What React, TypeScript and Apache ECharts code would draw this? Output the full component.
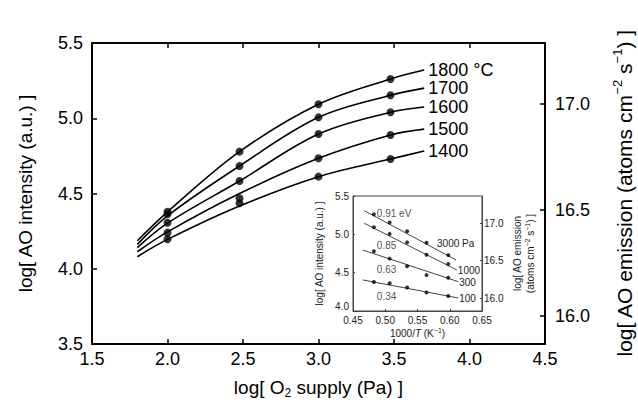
import React, { useEffect, useRef } from "react";
import * as echarts from "echarts";

// ---- data ----
const tempNames = ["1800 °C", "1700", "1600", "1500", "1400"];
const supplyLog = [2.0, 2.477, 3.0, 3.477]; // log of 100, 300, 1000, 3000 Pa
const dots1800 = [4.379, 4.778, 5.093, 5.261];
const dots1700 = [4.362, 4.683, 5.006, 5.153];
const dots1600 = [4.306, 4.583, 4.895, 5.04];
const dots1500 = [4.24, 4.468, 4.734, 4.889];
const dots1400 = [4.196, 4.435, 4.612, 4.729];

const curveX = [1.8, 2.0, 2.477, 3.0, 3.477, 3.7];
const curve1800 = [4.186, 4.378, 4.778, 5.093, 5.261, 5.32];
const curve1700 = [4.162, 4.352, 4.683, 5.006, 5.153, 5.2];
const curve1600 = [4.14, 4.303, 4.583, 4.895, 5.04, 5.075];
const curve1500 = [4.113, 4.245, 4.5, 4.734, 4.889, 4.928];
const curve1400 = [4.08, 4.195, 4.417, 4.612, 4.729, 4.782];

// inset: 1000/T (K^-1) for 1800..1400 °C
const invT = [0.4824, 0.5068, 0.5339, 0.564, 0.5977];
const pressureNames = ["3000 Pa", "1000", "300", "100"];
const fitX = [
  [0.4674, 0.6097],
  [0.4674, 0.611],
  [0.465, 0.613],
  [0.465, 0.613],
];
const fitY = [
  [5.309, 4.666],
  [5.144, 4.535],
  [4.796, 4.383],
  [4.405, 4.17],
];
const energyTexts = ["0.91 eV", "0.85", "0.63", "0.34"];
const energyX = [0.487, 0.487, 0.487, 0.487];
const energyY = [5.278, 4.848, 4.535, 4.183];

const mainXTicks = [1.5, 2.0, 2.5, 3.0, 3.5, 4.0, 4.5];
const mainYTicks = [3.5, 4.0, 4.5, 5.0, 5.5];
const mainRightTicks = [16.0, 16.5, 17.0];
const insetXTicks = [0.45, 0.5, 0.55, 0.6, 0.65];
const insetYTicks = [4.0, 4.5, 5.0, 5.5];
const insetRightTicks = [16.0, 16.5, 17.0];

const FONT = "'Liberation Sans', Arial, Helvetica, sans-serif";

export default function App() {
  const ref = useRef<HTMLDivElement>(null);
  useEffect(() => {
    if (!ref.current) return;
    const chart = echarts.init(ref.current, null, { renderer: "svg" });
    const curves = [curve1800, curve1700, curve1600, curve1500, curve1400];
    const dots = [dots1800, dots1700, dots1600, dots1500, dots1400];
    // pressure columns (3000,1000,300,100) -> supply index 3,2,1,0
    const colIdx = [3, 2, 1, 0];

    const series: any[] = [];
    curves.forEach((c, i) => {
      series.push({
        type: "line",
        name: tempNames[i],
        xAxisIndex: 0,
        yAxisIndex: 0,
        data: curveX.map((x, k) => [x, c[k]]),
        smooth: 0.35,
        showSymbol: false,
        lineStyle: { color: "#000", width: 1.6 },
        endLabel: {
          show: true,
          formatter: tempNames[i],
          color: "#000",
          fontSize: 18,
          fontFamily: FONT,
          distance: 4,
        },
        silent: true,
        z: 3,
      });
    });
    series.push({
      type: "scatter",
      xAxisIndex: 0,
      yAxisIndex: 0,
      symbolSize: 8,
      itemStyle: { color: "#000" },
      data: dots.flatMap((d) => supplyLog.map((x, k) => [x, d[k]])),
      z: 4,
    });

    // inset lines
    pressureNames.forEach((p, j) => {
      series.push({
        type: "line",
        name: p,
        xAxisIndex: 2,
        yAxisIndex: 2,
        data: fitX[j].map((x, k) => [x, fitY[j][k]]),
        showSymbol: false,
        lineStyle: { color: "#444", width: 1 },
        endLabel: {
          show: true,
          formatter: p,
          color: "#222",
          fontSize: 10,
          fontFamily: FONT,
          distance: 1,
          offset: j === 0 ? [-20, -16] : [0, 1],
        },
        z: 10,
      });
      series.push({
        type: "scatter",
        xAxisIndex: 2,
        yAxisIndex: 2,
        symbolSize: 4,
        itemStyle: { color: "#000" },
        data: invT.map((x, k) => [x, dots[k][colIdx[j]]]),
        z: 11,
      });
    });
    series.push({
      type: "scatter",
      xAxisIndex: 2,
      yAxisIndex: 2,
      symbolSize: 0,
      data: energyTexts.map((t, k) => ({ value: [energyX[k], energyY[k]], name: t })),
      label: {
        show: true,
        position: "right",
        distance: 0,
        formatter: (p: any) => p.name,
        color: "#222",
        fontSize: 10,
        fontFamily: FONT,
      },
      z: 12,
    });

    const fmt1 = (v: number) => v.toFixed(1);
    const fmt2 = (v: number) => v.toFixed(2);

    chart.setOption({
      animation: false,
      backgroundColor: "#fff",
      textStyle: { fontFamily: FONT },
      grid: [
        { left: 92, top: 43, width: 453, height: 301, containLabel: false, outerBoundsMode: "none" },
        {
          left: 353,
          top: 196,
          width: 129,
          height: 115,
          containLabel: false,
          outerBoundsMode: "none",
          show: true,
          borderColor: "#444",
          borderWidth: 1,
          backgroundColor: "#fff",
          z: 8,
        },
      ],
      xAxis: [
        {
          type: "value",
          gridIndex: 0,
          min: 1.5,
          max: 4.5,
          position: "bottom",
          axisLine: { lineStyle: { color: "#000", width: 2 } },
          axisTick: { inside: true, length: 5, lineStyle: { color: "#000", width: 1.5 }, customValues: mainXTicks },
          axisLabel: { customValues: mainXTicks, formatter: fmt1, color: "#000", fontSize: 18, margin: 6 },
          splitLine: { show: false },
          nameLocation: "middle",
          nameGap: 31,
          name: "{n|log[ O}{sub|2}{n| supply (Pa) ]}",
          nameTextStyle: {
            color: "#000",
            rich: {
              n: { fontSize: 19, color: "#000", lineHeight: 24, fontFamily: FONT },
              sub: { fontSize: 12, color: "#000", verticalAlign: "bottom", lineHeight: 12, fontFamily: FONT },
            },
          },
        },
        {
          type: "value",
          gridIndex: 0,
          min: 1.5,
          max: 4.5,
          position: "top",
          axisLine: { lineStyle: { color: "#000", width: 2 } },
          axisTick: { inside: true, length: 5, lineStyle: { color: "#000", width: 1.5 }, customValues: mainXTicks },
          axisLabel: { show: false },
          splitLine: { show: false },
        },
        {
          type: "value",
          gridIndex: 1,
          min: 0.45,
          max: 0.65,
          position: "bottom",
          axisLine: { lineStyle: { color: "#444", width: 1 } },
          axisTick: { inside: true, length: 2, lineStyle: { color: "#444" }, customValues: insetXTicks },
          axisLabel: { customValues: insetXTicks, formatter: fmt2, color: "#222", fontSize: 10, margin: 4 },
          splitLine: { show: false },
          nameLocation: "middle",
          nameGap: 16,
          name: "{n|1000/}{i|T}{n| (K}{s|−1}{n|)}",
          nameTextStyle: {
            rich: {
              n: { fontSize: 10, color: "#222", lineHeight: 13, fontFamily: FONT },
              i: { fontSize: 10, color: "#222", lineHeight: 13, fontStyle: "italic", fontFamily: FONT },
              s: { fontSize: 7, color: "#222", verticalAlign: "top", lineHeight: 7, fontFamily: FONT },
            },
          },
          z: 9,
        },
      ],
      yAxis: [
        {
          type: "value",
          gridIndex: 0,
          min: 3.5,
          max: 5.5,
          position: "left",
          axisLine: { show: true, lineStyle: { color: "#000", width: 2 } },
          axisTick: { show: true, inside: true, length: 5, lineStyle: { color: "#000", width: 1.5 }, customValues: mainYTicks },
          axisLabel: { customValues: mainYTicks, formatter: fmt1, color: "#000", fontSize: 18, margin: 9 },
          splitLine: { show: false },
          name: "log[ AO intensity (a.u.) ]",
          nameLocation: "middle",
          nameRotate: 90,
          nameGap: 57,
          nameTextStyle: { color: "#000", fontSize: 19 },
        },
        {
          type: "value",
          gridIndex: 0,
          min: 15.868,
          max: 17.288,
          position: "right",
          axisLine: { show: true, lineStyle: { color: "#000", width: 2 } },
          axisTick: { show: true, inside: true, length: 5, lineStyle: { color: "#000", width: 1.5 }, customValues: mainRightTicks },
          axisLabel: { customValues: mainRightTicks, formatter: fmt1, color: "#000", fontSize: 18, margin: 10 },
          splitLine: { show: false },
          name: "{n|log[ AO emission (atoms cm}{s|−2}{n| s}{s|−1}{n|) ]}",
          nameLocation: "middle",
          nameRotate: 90,
          nameGap: 66,
          nameTextStyle: {
            rich: {
              n: { fontSize: 21, color: "#000", lineHeight: 26, fontFamily: FONT },
              s: { fontSize: 13, color: "#000", verticalAlign: "top", lineHeight: 13, fontFamily: FONT },
            },
          },
        },
        {
          type: "value",
          gridIndex: 1,
          min: 4.0,
          max: 5.5,
          position: "left",
          axisLine: { show: true, lineStyle: { color: "#444", width: 1 } },
          axisTick: { show: true, inside: true, length: 2, lineStyle: { color: "#444" }, customValues: insetYTicks },
          axisLabel: {
            customValues: insetYTicks,
            formatter: fmt1,
            color: "#222",
            fontSize: 10,
            margin: 4,
            verticalAlignMinLabel: "bottom",
          },
          splitLine: { show: false },
          name: "log[ AO intensity (a.u.) ]",
          nameLocation: "middle",
          nameRotate: 90,
          nameGap: 29,
          nameTextStyle: { color: "#222", fontSize: 10 },
          z: 9,
        },
        {
          type: "value",
          gridIndex: 1,
          min: 15.827,
          max: 17.36,
          position: "right",
          axisLine: { show: true, lineStyle: { color: "#444", width: 1 } },
          axisTick: { show: true, inside: true, length: 2, lineStyle: { color: "#444" }, customValues: insetRightTicks },
          axisLabel: { customValues: insetRightTicks, formatter: fmt1, color: "#222", fontSize: 10, margin: 2 },
          splitLine: { show: false },
          name: "{n|log[ AO emission}\n{n|(atoms cm}{s|−2}{n| s}{s|−1}{n|) ]}",
          nameLocation: "middle",
          nameRotate: 90,
          nameGap: 29,
          nameTextStyle: {
            rich: {
              n: { fontSize: 10, color: "#222", lineHeight: 13, fontFamily: FONT },
              s: { fontSize: 7, color: "#222", verticalAlign: "top", lineHeight: 7, fontFamily: FONT },
            },
          },
          z: 9,
        },
      ],
      series,
    });
    return () => chart.dispose();
  }, []);
  return (
    <div
      ref={ref}
      style={{ position: "fixed", left: 0, top: 0, width: 638, height: 406, background: "#fff" }}
    />
  );
}
